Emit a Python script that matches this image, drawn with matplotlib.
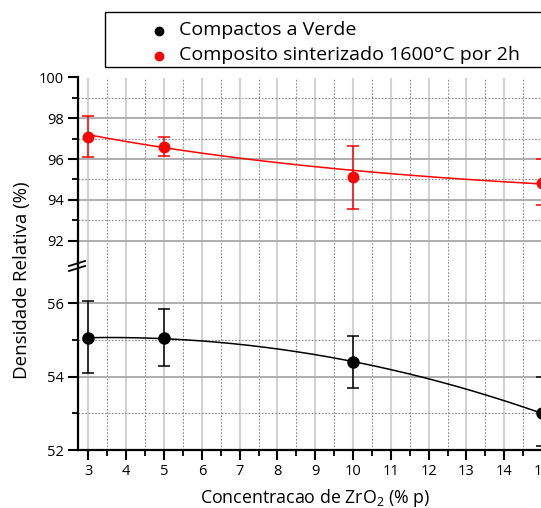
import numpy as np
import matplotlib
matplotlib.use("Agg")
import matplotlib.pyplot as plt
from matplotlib.ticker import FixedLocator, MultipleLocator
from matplotlib.lines import Line2D
from matplotlib.patches import Rectangle

plt.rcParams["font.family"] = ["Open Sans", "DejaVu Sans"]
plt.rcParams["mathtext.fontset"] = "custom"
plt.rcParams["mathtext.rm"] = "Open Sans"

# ZrO2 concentration (% p)
zro2 = [3, 5, 10, 15]

# green compacts: relative density and error
verde = [55.05, 55.05, 54.40, 53.00]
verde_err_hi = [1.00, 0.80, 0.70, 1.00]
verde_err_lo = [0.95, 0.75, 0.70, 0.90]

# composite sintered at 1600 C for 2h
sint = [97.10, 96.60, 95.10, 94.85]
sint_err_hi = [1.00, 0.50, 1.55, 1.15]
sint_err_lo = [1.00, 0.45, 1.55, 1.10]

labels = ["Compactos a Verde", "Composito sinterizado 1600°C por 2h"]


def exp_decay_fit(x, y, sigma):
    """Weighted fit of y = y0 + A*exp(-x/t), scanning t."""
    x = np.asarray(x, float)
    y = np.asarray(y, float)
    w = 1.0 / np.asarray(sigma, float) ** 2
    best = None
    for t in np.linspace(0.5, 200, 4000):
        M = np.column_stack([np.ones_like(x), np.exp(-x / t)])
        Wm = M * w[:, None]
        coef = np.linalg.solve(M.T @ Wm, Wm.T @ y)
        r = np.sum(w * (M @ coef - y) ** 2)
        if best is None or r < best[0]:
            best = (r, coef, t)
    _, (y0, a), t = best
    return lambda xx: y0 + a * np.exp(-np.asarray(xx) / t)


W, H = 541, 508
fig = plt.figure(figsize=(W / 100, H / 100), dpi=100)

x_lo, x_hi = 2.71, 15.3
px_per_unit = 37.8
left = 77.5 / W
width = (x_hi - x_lo) * px_per_unit / W
y_top, y_mid, y_bot = 77.5, 261.0, 450.0
ax_t = fig.add_axes([left, 1 - y_mid / H, width, (y_mid - y_top) / H])
ax_b = fig.add_axes([left, 1 - y_bot / H, width, (y_bot - y_mid) / H], sharex=ax_t)

xs = np.linspace(3, 15, 200)


def style(ax):
    ax.set_xlim(x_lo, x_hi)
    ax.xaxis.set_major_locator(MultipleLocator(1))
    ax.xaxis.set_minor_locator(MultipleLocator(0.5))
    ax.grid(which="major", axis="x", color="#d2d2d2", lw=1.5, ls="-")
    ax.grid(which="minor", axis="x", color="#8a8a8a", lw=0.8, ls=(0, (1.5, 1.5)))
    ax.grid(which="major", axis="y", color="#a8a8a8", lw=1.3, ls="-")
    ax.grid(which="minor", axis="y", color="#8a8a8a", lw=0.8, ls=(0, (1.5, 1.5)))
    ax.set_axisbelow(True)
    for s in ("top", "right"):
        ax.spines[s].set_visible(False)
    ax.spines["left"].set_linewidth(1.6)
    ax.spines["bottom"].set_linewidth(1.6)
    ax.tick_params(which="major", direction="out", length=7, width=1.5, labelsize=10.5, pad=3)
    ax.tick_params(which="minor", direction="out", length=4, width=1.3)


style(ax_t)
style(ax_b)

# top panel: sintered composite
ax_t.set_ylim(91, 100)
ax_t.yaxis.set_major_locator(FixedLocator([92, 94, 96, 98, 100]))
ax_t.yaxis.set_minor_locator(FixedLocator([93, 95, 97, 99]))
ax_t.spines["bottom"].set_visible(False)
ax_t.tick_params(axis="x", which="both", bottom=False, labelbottom=False)
sint_sigma = [(a + b) / 2 for a, b in zip(sint_err_lo, sint_err_hi)]
f_s = exp_decay_fit(zro2, sint, sint_sigma)
ax_t.plot(xs, f_s(xs), color="red", lw=1.1, zorder=3)
ax_t.errorbar(zro2, sint, yerr=[sint_err_lo, sint_err_hi], fmt="o", color="red",
              ms=7.5, elinewidth=1.1, capsize=4, capthick=1.1, zorder=4, clip_on=False)

# bottom panel: green compacts
ax_b.set_ylim(52, 57.15)
ax_b.yaxis.set_major_locator(FixedLocator([52, 54, 56]))
ax_b.yaxis.set_minor_locator(FixedLocator([53, 55]))
ax_b.spines["top"].set_visible(False)
c_v = np.polyfit(zro2, verde, 2)
ax_b.plot(xs, np.polyval(c_v, xs), color="black", lw=1.1, zorder=3)
ax_b.errorbar(zro2, verde, yerr=[verde_err_lo, verde_err_hi], fmt="o", color="black",
              ms=8, elinewidth=1.1, capsize=4, capthick=1.1, zorder=4, clip_on=False)

ax_b.set_xlabel("Concentracao de ZrO$_\\mathregular{2}$ (% p)", fontsize=12.8, labelpad=6)
fig.text(22 / W, 1 - 280 / H, "Densidade Relativa (%)", rotation=90,
         ha="center", va="center", fontsize=13.5)

# axis break marks
for yb in (263.5, 268.5):
    fig.add_artist(Line2D([69 / W, 85 / W], [1 - (yb + 2.5) / H, 1 - (yb - 2.5) / H],
                          color="black", lw=1.3))

# legend box running off the right edge
fig.add_artist(Rectangle((105 / W, 1 - 67 / H), 460 / W, 55 / H, transform=fig.transFigure,
                         facecolor="white", edgecolor="black", lw=1.0))
for lab, col, yc in zip(labels, ["black", "red"], [31, 56]):
    fig.add_artist(Line2D([159 / W], [1 - yc / H], ls="none", marker="o", color=col, ms=6))
    fig.text(179 / W, 1 - (yc - 1) / H, lab, ha="left", va="center", fontsize=14)

fig.savefig("out.png", dpi=100)
